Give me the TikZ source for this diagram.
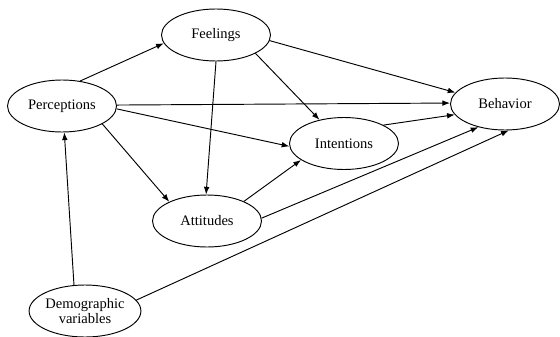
\documentclass[tikz,border=0pt]{standalone}
\usepackage{fontspec}
\setmainfont{Liberation Serif}
\usetikzlibrary{arrows.meta,shapes.geometric}
\tikzset{
  model node/.style={ellipse,draw,line width=0.8pt,minimum width=3.27cm,minimum height=1.56cm,inner sep=0pt,font=\fontsize{12.4}{14}\selectfont,align=center},
  model edge/.style={-{Latex[length=2.3mm,width=1.7mm]},line width=0.8pt},
}

\begin{document}
\begin{tikzpicture}[x=0.03cm,y=-0.03cm]
  \useasboundingbox (0,0) rectangle (560,337);
  \node[model node] (feel) at (216,35) {Feelings};
  \node[model node] (perc) at (62,106) {Perceptions};
  \node[model node] (beh) at (505,104) {Behavior};
  \node[model node] (int) at (344,143.5) {Intentions};
  \node[model node] (att) at (207,221) {Attitudes};
  \node[model node] (demo) at (85,311) {Demographic\\[-2pt]variables};
  \draw[model edge] (perc.54) -- (feel.189);
  \draw[model edge] (feel.-6) -- (beh.167);
  \draw[model edge] (feel.-25) -- (int.136);
  \draw[model edge] (feel.south) -- (att.92);
  \draw[model edge] (perc.1) -- (beh.179);
  \draw[model edge] (perc.-3) -- (int.183);
  \draw[model edge] (perc.-24) -- (att.153);
  \draw[model edge] (att.28) -- (int.201);
  \draw[model edge] (att.3) -- (beh.221);
  \draw[model edge] (int.25) -- (beh.192);
  \draw[model edge] (demo.113) -- (perc.275);
  \draw[model edge] (demo.12) -- (beh.278);
\end{tikzpicture}
\end{document}
